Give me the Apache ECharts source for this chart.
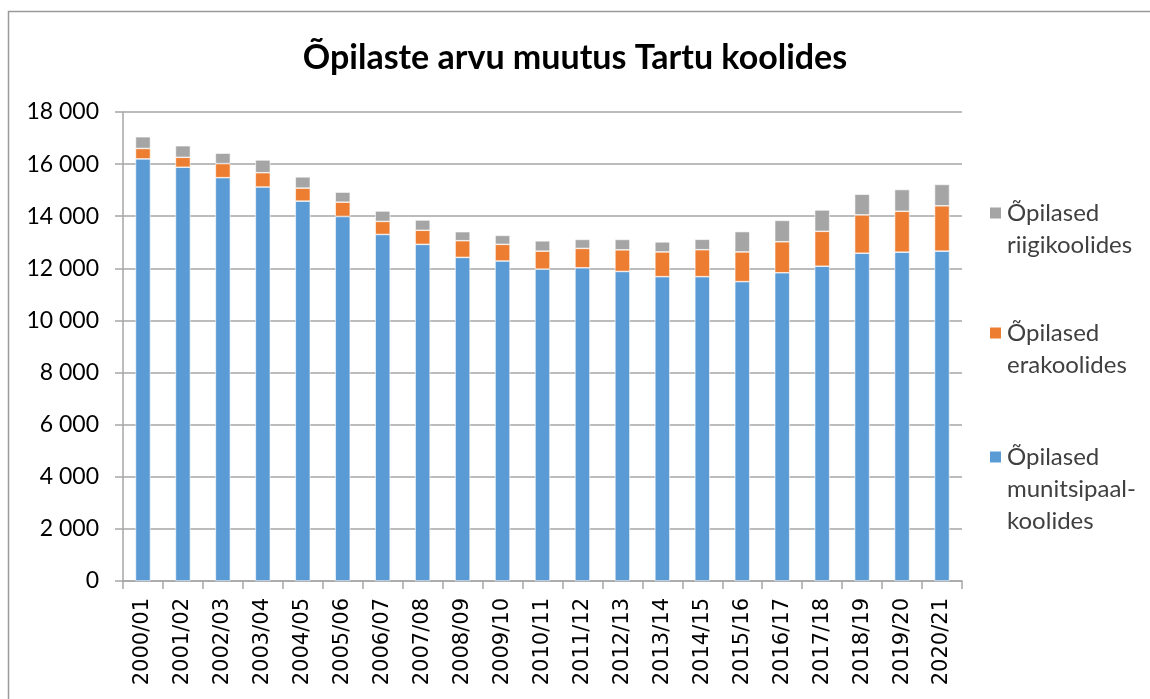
<!DOCTYPE html>
<html>
<head>
<meta charset="utf-8">
<script src="https://cdn.jsdelivr.net/npm/echarts@6/dist/echarts.min.js"></script>
<style>
html,body{margin:0;padding:0;background:#fff;}
#c{width:1150px;height:699px;}
</style>
</head>
<body>
<div id="c"></div>
<script>
const categories = ["2000/01","2001/02","2002/03","2003/04","2004/05","2005/06","2006/07","2007/08","2008/09","2009/10","2010/11","2011/12","2012/13","2013/14","2014/15","2015/16","2016/17","2017/18","2018/19","2019/20","2020/21"];
const munitsipaal = [16200,15880,15480,15120,14580,13990,13300,12920,12420,12280,11970,12020,11880,11680,11680,11490,11830,12080,12580,12620,12660];
const era = [400,380,540,550,500,550,500,540,640,640,690,745,830,950,1035,1140,1190,1340,1470,1570,1740];
const riigi = [450,445,400,490,430,385,400,395,345,345,395,345,400,385,400,780,820,820,795,835,820];
const seriesNames = ["Õpilased munitsipaal-koolides","Õpilased erakoolides","Õpilased riigikoolides"];
const legendLabels = ["Õpilased\nmunitsipaal-\nkoolides","Õpilased\nerakoolides","Õpilased\nriigikoolides"];
const yTicks = {min:0, max:18000, interval:2000};

const colors = ['#5B9BD5','#ED7D31','#A5A5A5'];
const font = 'Lato, "Noto Sans", sans-serif';
const L = 32;

function fmt(v){ return String(v).replace(/\B(?=(\d{3})+(?!\d))/g,' '); }

function legendFor(i, iconY, lines){
  // blank leading lines so that the first text line sits level with the icon
  const pre = '\n'.repeat(lines - 1);
  const boxH = (2 * lines - 1) * L;
  return {
    show:true, orient:'vertical', left:988, top:iconY - boxH/2, padding:0,
    itemWidth:13, itemHeight:13, itemGap:0,
    icon:'rect', selectedMode:false,
    data:[{name:seriesNames[i]}],
    formatter: function(){ return pre + legendLabels[i]; },
    textStyle:{fontFamily:font, fontSize:24, color:'#404040', lineHeight:L}
  };
}

const chart = echarts.init(document.getElementById('c'), null, {renderer:'canvas'});
chart.setOption({
  animation:false,
  backgroundColor:'#fff',
  color:colors,
  title:{text:'Õpilaste arvu muutus Tartu koolides', left:'center', top:36,
    textStyle:{fontFamily:font, fontWeight:'bold', fontSize:34, color:'#000'}},
  graphic:[{type:'rect', shape:{x:8.5,y:11.5,width:1300,height:900}, style:{fill:'none', stroke:'#9a9a9a', lineWidth:1.5}, silent:true}],
  legend:[
    legendFor(2, 213, 2),
    legendFor(1, 333, 2),
    legendFor(0, 457, 3)
  ],
  grid:{left:123, right:188, top:112, bottom:118, containLabel:false},
  xAxis:{type:'category', data:categories, boundaryGap:true,
    axisLine:{lineStyle:{color:'#a6a6a6', width:1.5}},
    axisTick:{show:true, length:8, alignWithLabel:false, lineStyle:{color:'#a6a6a6', width:1.5}},
    axisLabel:{rotate:90, interval:0, margin:17, fontFamily:'"DejaVu Sans", sans-serif', fontSize:21, color:'#000'}},
  yAxis:{type:'value', min:yTicks.min, max:yTicks.max, interval:yTicks.interval,
    axisLine:{show:true, lineStyle:{color:'#a6a6a6', width:1.5}},
    axisTick:{show:true, length:8, lineStyle:{color:'#a6a6a6', width:1.5}},
    splitLine:{lineStyle:{color:'#a6a6a6', width:1.5}},
    axisLabel:{margin:24, fontFamily:font, fontSize:23, color:'#000', formatter:fmt}},
  series:[
    {name:seriesNames[0], type:'bar', stack:'s', data:munitsipaal, barWidth:15, itemStyle:{color:colors[0], borderColor:'#fff', borderWidth:0.6}},
    {name:seriesNames[1], type:'bar', stack:'s', data:era, barWidth:15, itemStyle:{color:colors[1], borderColor:'#fff', borderWidth:0.6}},
    {name:seriesNames[2], type:'bar', stack:'s', data:riigi, barWidth:15, itemStyle:{color:colors[2], borderColor:'#fff', borderWidth:0.6}}
  ]
});
</script>
</body>
</html>
